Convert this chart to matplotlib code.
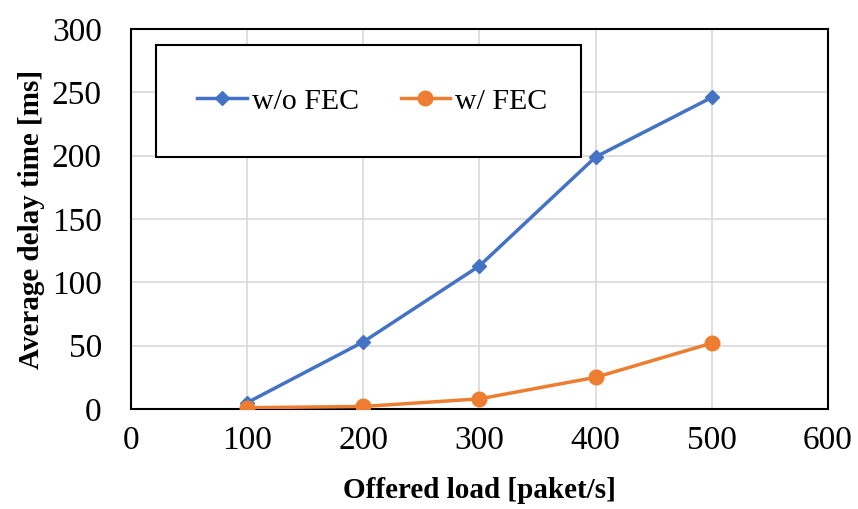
import matplotlib.pyplot as plt
from matplotlib.patches import Rectangle

plt.rcParams['font.family'] = ['Liberation Serif', 'DejaVu Serif']

# ─── Data ─────────────────────────────────────────────────────────────
load = [100, 200, 300, 400, 500]
delay_no_fec = [5, 53, 113, 199, 246]
delay_fec = [1, 2, 8, 25, 52]

x_ticks = [0, 100, 200, 300, 400, 500, 600]
y_ticks = [0, 50, 100, 150, 200, 250, 300]

# ─── Plot ─────────────────────────────────────────────────────────────
fig = plt.figure(figsize=(8.58, 5.09), dpi=100)
ax = fig.add_axes([0.1527, 0.1965, 0.8123, 0.7465])

ax.plot(load, delay_no_fec, color='#4472C4', lw=2.5, marker='D', ms=7.5,
        label='w/o FEC', zorder=3)
ax.plot(load, delay_fec, color='#ED7D31', lw=2.5, marker='o', ms=10.5,
        label='w/ FEC', zorder=3)

ax.set_xlim(0, 600)
ax.set_ylim(0, 300)
ax.set_xticks(x_ticks)
ax.set_yticks(y_ticks)
ax.tick_params(length=0, labelsize=24)
ax.tick_params(axis='x', pad=12)
ax.tick_params(axis='y', pad=21)
ax.grid(True, color='#D9D9D9', lw=1.2)
ax.set_axisbelow(True)
for s in ax.spines.values():
    s.set_color('black')
    s.set_linewidth(1.5)

ax.set_xlabel('Offered load [paket/s]', fontsize=21, fontweight='bold', labelpad=15)
ax.set_ylabel('Average delay time [ms]', fontsize=21, fontweight='bold', labelpad=5)

# legend box
box = Rectangle((0.036, 0.663), 0.61, 0.295, transform=ax.transAxes,
                facecolor='white', edgecolor='black', lw=1.5, zorder=4)
ax.add_patch(box)
leg = ax.legend(loc='center', bbox_to_anchor=(0.346, 0.81), ncol=2,
                frameon=False, fontsize=21.5, handlelength=1.67,
                handletextpad=0.15, columnspacing=1.4, borderaxespad=0)
leg.set_zorder(5)

fig.savefig('out.png', dpi=100)
